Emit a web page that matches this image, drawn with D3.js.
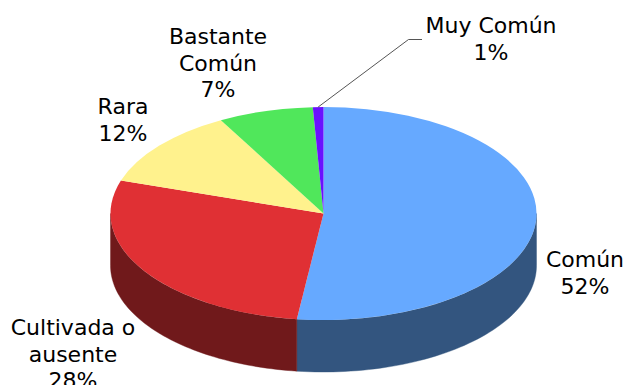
<!DOCTYPE html>
<html><head><meta charset="utf-8">
<script src="https://cdn.jsdelivr.net/npm/d3@7"></script>
<style>html,body{margin:0;padding:0;background:#fff;overflow:hidden}svg{display:block}</style>
</head><body><div id="c"></div>
<script>
const categories = ["Común","Cultivada o ausente","Rara","Bastante Común","Muy Común"];
const values = [52.0,28.0,12.0,7.2,0.8];
const percentLabels = ["52%","28%","12%","7%","1%"];
const topColors = ["#66A9FF","#E03034","#FFF28D","#50E75B","#6A10FF"];
const sideColors = ["#33557F","#70191B",null,null,null];
const labelLines = [["Común","52%"],["Cultivada o","ausente","28%"],["Rara","12%"],["Bastante","Común","7%"],["Muy Común","1%"]];
const labelPos = [[585,259],[73,327],[123,106],[218,36],[491,25]];

const W=625,H=385,cx=323.5,cy=213.5,rx=213,ry=106.5,depth=52;
const svg=d3.select("#c").append("svg").attr("width",W).attr("height",H);
const arcs=d3.pie().sort(null).value(d=>d)(values);
const px=t=>cx+rx*Math.sin(t), py=t=>cy-ry*Math.cos(t);

// side walls (front half of the ellipse only)
const line=d3.line();
arcs.forEach((a,i)=>{
  const s=Math.max(a.startAngle,Math.PI/2), e=Math.min(a.endAngle,Math.PI*1.5);
  if(e<=s||!sideColors[i])return;
  const ts=d3.range(0,61).map(k=>s+(e-s)*k/60);
  const pts=ts.map(t=>[px(t),py(t)]).concat(ts.slice().reverse().map(t=>[px(t),py(t)+depth]));
  svg.append("path").attr("d",line(pts)+"Z").attr("fill",sideColors[i]).attr("stroke",sideColors[i]).attr("stroke-width",0.4);
});

// top face
const arc=d3.arc().innerRadius(0).outerRadius(rx);
svg.append("g").attr("transform",`translate(${cx},${cy}) scale(1,${ry/rx})`)
  .selectAll("path").data(arcs).join("path")
  .attr("d",arc).attr("fill",(d,i)=>topColors[i]);

// leader line
const t4=(arcs[4].startAngle+arcs[4].endAngle)/2;
svg.append("path").attr("d",line([[px(t4),py(t4)],[408.5,39.5],[422,39.5]]))
  .attr("fill","none").attr("stroke","#555").attr("stroke-width",1);

// labels
const lh=26.7;
categories.forEach((c,i)=>{
  const t=svg.append("text").attr("text-anchor","middle")
    .attr("font-family","'DejaVu Sans',Verdana,sans-serif").attr("font-size",22).attr("fill","#000");
  labelLines[i].forEach((l,j)=>{
    t.append("tspan").attr("x",labelPos[i][0]).attr("y",labelPos[i][1]+j*lh).attr("dy","0.36em").text(l);
  });
});
</script></body></html>
